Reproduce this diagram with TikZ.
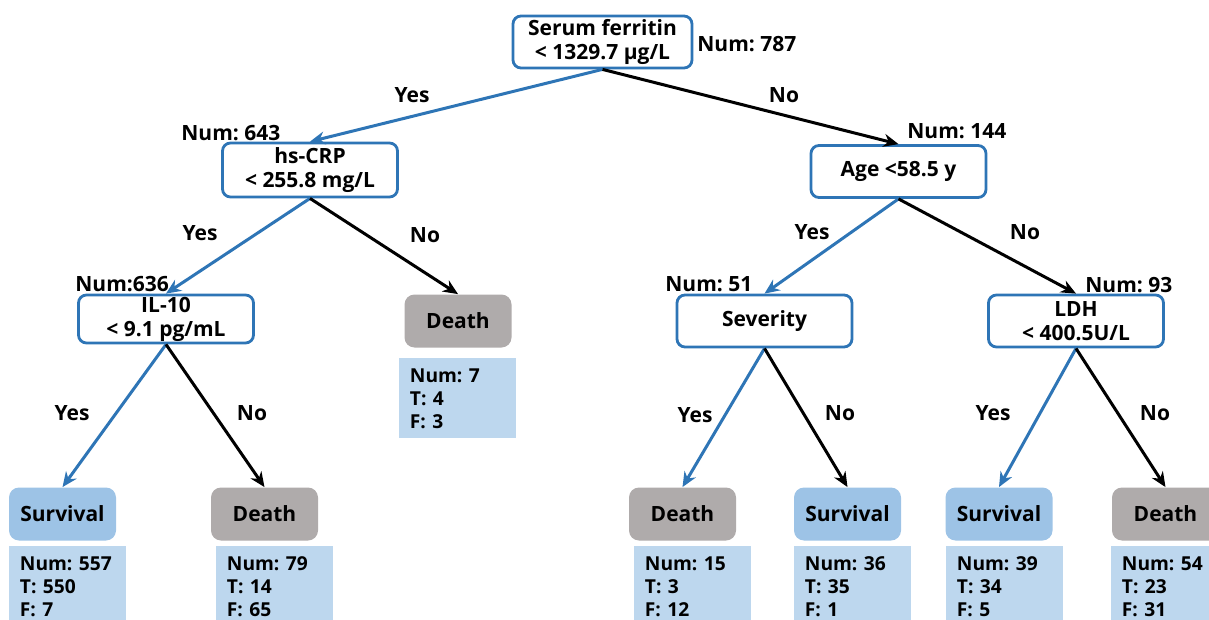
\documentclass[tikz,border=0pt]{standalone}
\usepackage{fontspec}
\setmainfont{Open Sans}
\usetikzlibrary{arrows.meta,positioning}

\definecolor{splitblue}{RGB}{46,117,182}
\definecolor{survfill}{RGB}{157,195,230}
\definecolor{deathfill}{RGB}{175,171,171}
\definecolor{infofill}{RGB}{189,215,238}

\tikzset{
  boldtext/.style={font=\frenchspacing\bfseries\fontsize{10.5}{12}\selectfont},
  splitbox/.style={boldtext, draw=splitblue, line width=1.4pt, rounded corners=4pt, fill=white,
    align=center, minimum width=87.5pt, minimum height=26pt, inner sep=0pt},
  leafbox/.style={boldtext, rounded corners=5pt, minimum width=53.5pt, minimum height=26.5pt, inner sep=0pt},
  survleaf/.style={leafbox, fill=survfill},
  deathleaf/.style={leafbox, fill=deathfill},
  infobox/.style={font=\frenchspacing\bfseries\fontsize{9.6}{11.5}\selectfont, fill=infofill, anchor=north west,
    minimum width=58.5pt, minimum height=40pt, text width=48pt, inner xsep=5.25pt, align=left},
  numlabel/.style={boldtext, anchor=west, inner sep=0pt},
  branchlabel/.style={boldtext, inner sep=0pt},
  yesedge/.style={draw=splitblue, line width=1.5pt, -{Stealth[length=7.5pt,width=6.5pt]}},
  noedge/.style={draw=black, line width=1.5pt, -{Stealth[length=7.5pt,width=6.5pt]}}
}

\begin{document}
\begin{tikzpicture}[x=0.5pt, y=-0.5pt]
    \clip (0,0) rectangle (1209,620);

    % Splits
    \node[splitbox, minimum width=89.5pt] (ferritin) at (602.5,42) {Serum ferritin\\< 1329.7 µg/L};
    \node[splitbox, minimum height=27pt] (crp) at (310,170) {hs-CRP\\< 255.8 mg/L};
    \node[splitbox] (age) at (898.5,171.5) {Age <58.5 y};
    \node[splitbox, minimum height=24pt] (il10) at (166,319) {IL-10\\< 9.1 pg/mL};
    \node[splitbox] (severity) at (764.5,321) {Severity};
    \node[splitbox] (ldh) at (1076,321) {LDH\\< 400.5U/L};

    % Counts at splits
    \node[numlabel] (nferritin) at (697,44) {Num: 787};
    \node[numlabel] (ncrp) at (181,133) {Num: 643};
    \node[numlabel] (nage) at (907,131) {Num: 144};
    \node[numlabel] (nil10) at (75,284) {Num:636};
    \node[numlabel] (nseverity) at (665,284) {Num: 51};
    \node[numlabel] (nldh) at (1085,285) {Num: 93};

    % Leaves
    \node[deathleaf] (deathcrp) at (458,321) {Death};
    \node[survleaf] (survil) at (62.5,514) {Survival};
    \node[deathleaf] (deathil) at (264.5,514) {Death};
    \node[deathleaf] (deathsev) at (682.5,514) {Death};
    \node[survleaf] (survsev) at (847.5,514) {Survival};
    \node[survleaf] (survldh) at (999,514) {Survival};
    \node[deathleaf] (deathldh) at (1165.5,514) {Death};

    % Leaf counts
    \node[infobox] (icrp) at (399,358) {Num: 7\\T: 4\\F: 3};
    \node[infobox] (isurvil) at (9,546) {Num: 557\\T: 550\\F: 7};
    \node[infobox] (ideathil) at (216,546) {Num: 79\\T: 14\\F: 65};
    \node[infobox] (ideathsev) at (634,546) {Num: 15\\T: 3\\F: 12};
    \node[infobox] (isurvsev) at (794,546) {Num: 36\\T: 35\\F: 1};
    \node[infobox] (isurvldh) at (946,546) {Num: 39\\T: 34\\F: 5};
    \node[infobox] (ideathldh) at (1111,546) {Num: 54\\T: 23\\F: 31};

    % Arrows
    \draw[yesedge] (ferritin.south) -- (crp.north);
    \draw[noedge] (ferritin.south) -- (age.north);
    \draw[yesedge] (crp.south) -- (il10.north);
    \draw[noedge] (crp.south) -- (deathcrp.north);
    \draw[yesedge] (age.south) -- (severity.north);
    \draw[noedge] (age.south) -- (ldh.north);
    \draw[yesedge] (il10.south) -- (survil.north);
    \draw[noedge] (il10.south) -- (deathil.north);
    \draw[yesedge] (severity.south) -- (deathsev.north);
    \draw[noedge] (severity.south) -- (survsev.north);
    \draw[yesedge] (ldh.south) -- (survldh.north);
    \draw[noedge] (ldh.south) -- (deathldh.north);

    % Branch labels
    \node[branchlabel] (y1) at (412,95) {Yes};
    \node[branchlabel] (n1) at (784,95) {No};
    \node[branchlabel] (y2) at (200,233) {Yes};
    \node[branchlabel] (n2) at (425,235) {No};
    \node[branchlabel] (y3) at (812,232) {Yes};
    \node[branchlabel] (n3) at (1025,232) {No};
    \node[branchlabel] (y4) at (72,413) {Yes};
    \node[branchlabel] (n4) at (252,413) {No};
    \node[branchlabel] (y5) at (695,415) {Yes};
    \node[branchlabel] (n5) at (840,413) {No};
    \node[branchlabel] (y6) at (993,413) {Yes};
    \node[branchlabel] (n6) at (1155,413) {No};
\end{tikzpicture}
\end{document}
